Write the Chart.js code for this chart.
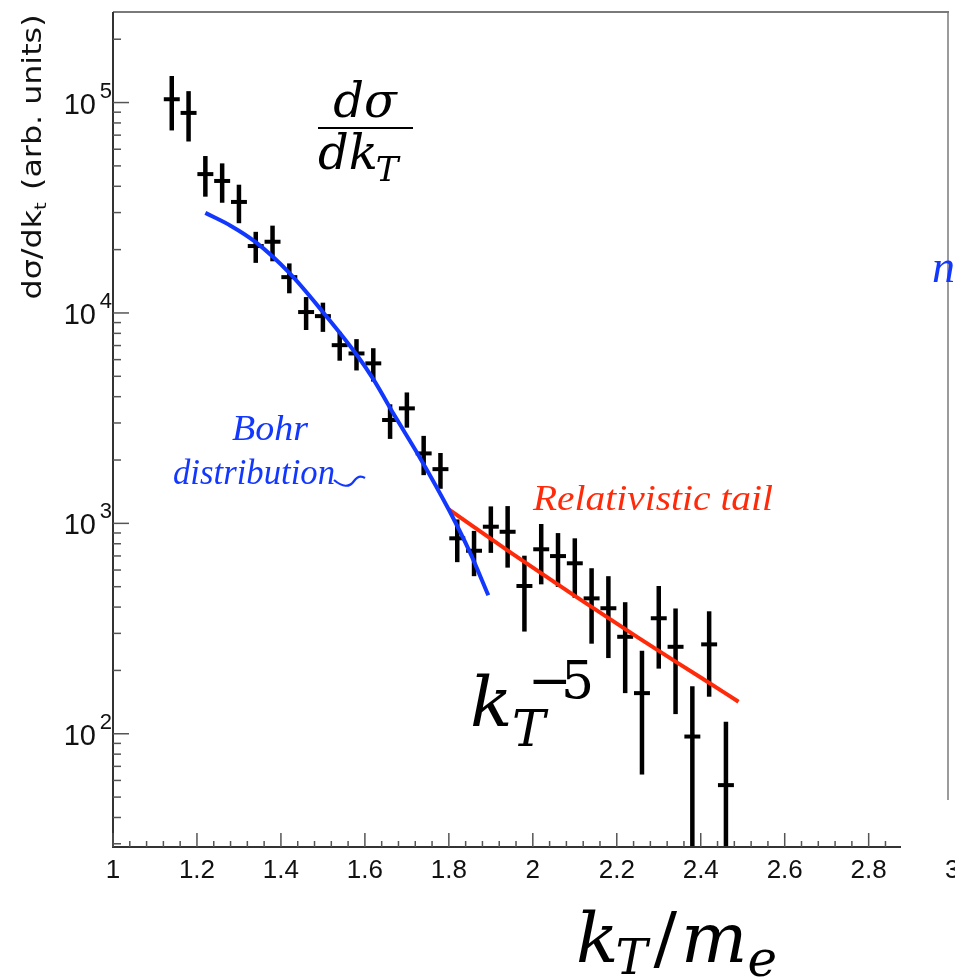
<!DOCTYPE html>
<html>
<head>
<meta charset="utf-8">
<script src="https://cdn.jsdelivr.net/npm/chart.js@4.4.1/dist/chart.umd.min.js"></script>
<style>
  html, body { margin: 0; padding: 0; background: #fff; }
  canvas { display: block; }
</style>
</head>
<body>
<canvas id="chart" width="955" height="978"></canvas>
<script>
// measured spectrum (bin centres, value, symmetric error)
const kt = [1.14, 1.18, 1.22, 1.26, 1.30, 1.34, 1.38, 1.42, 1.46, 1.50, 1.54, 1.58,
            1.62, 1.66, 1.70, 1.74, 1.78, 1.82, 1.86, 1.90, 1.94, 1.98, 2.02, 2.06,
            2.10, 2.14, 2.18, 2.22, 2.26, 2.30, 2.34, 2.38, 2.42, 2.46];
const sigma = [103700, 89300, 45700, 42400, 33700, 20800, 21800, 14800, 10100, 9660, 7030, 6420,
               5760, 3100, 3520, 2150, 1810, 849, 741, 964, 912, 504, 753, 699,
               646, 440, 395, 289, 156, 354, 259, 97, 266, 57];
const sigmaErr = [30000, 24000, 10000, 9000, 7000, 3500, 4200, 2400, 1800, 1530, 1100, 1090,
                  1040, 580, 670, 455, 350, 195, 180, 240, 296, 198, 240, 200,
                  203, 172, 166, 133, 92, 150, 135, 71, 116, 57];
const binHalf = 0.019;

// Bohr distribution curve
const bohrX = [1.22, 1.28, 1.34, 1.42, 1.50, 1.58, 1.62, 1.67, 1.73, 1.80, 1.85, 1.894];
const bohrY = [29900, 26000, 21700, 15500, 10100, 6350, 4850, 3270, 2070, 1160, 730, 455];

// relativistic tail ~ k^-5
const tailX = [1.80, 1.95, 2.10, 2.25, 2.40, 2.49];
const tailY = [1165, 720, 452, 287, 185, 142];

// axis ticks
const xTickLabels = ['1', '1.2', '1.4', '1.6', '1.8', '2', '2.2', '2.4', '2.6', '2.8'];
const yTickPowers = [2, 3, 4, 5];

const xMin = 1, xMax = 2.877;
const yMin = 28.96, yMax = 269400;

const BLUE = '#1238ff';
const RED = '#ff2a0a';

function pts(xs, ys) {
  return xs.map((x, i) => ({ x: x, y: ys[i] }));
}

// draws a run of text pieces [text, font, dy, gap] starting at x
function drawRuns(ctx, x, y, runs) {
  let cx = x;
  runs.forEach(r => {
    ctx.font = r[1];
    ctx.fillText(r[0], cx, y + r[2]);
    cx += ctx.measureText(r[0]).width + (r[3] || 0);
  });
  return cx;
}
function runsWidth(ctx, runs) {
  let w = 0;
  runs.forEach(r => { ctx.font = r[1]; w += ctx.measureText(r[0]).width + (r[3] || 0); });
  return w;
}
// text squeezed/stretched horizontally to a given width, left edge at x
function fitText(ctx, text, font, x, y, width) {
  ctx.font = font;
  const w = ctx.measureText(text).width;
  ctx.save();
  ctx.translate(x, y);
  ctx.scale(width / w, 1);
  ctx.textAlign = 'left';
  ctx.fillText(text, 0, 0);
  ctx.restore();
}

const errorBars = {
  id: 'errorBars',
  beforeDatasetsDraw(chart) {
    const ctx = chart.ctx, xs = chart.scales.x, ys = chart.scales.y, a = chart.chartArea;
    ctx.save();
    ctx.beginPath();
    ctx.rect(a.left, a.top, a.right - a.left, a.bottom - a.top);
    ctx.clip();
    ctx.strokeStyle = '#000';
    kt.forEach((k, i) => {
      const px = xs.getPixelForValue(k);
      const py = ys.getPixelForValue(sigma[i]);
      const lo = sigma[i] - sigmaErr[i];
      const pyLo = lo > 1 ? ys.getPixelForValue(lo) : a.bottom + 20;
      const pyHi = ys.getPixelForValue(sigma[i] + sigmaErr[i]);
      ctx.lineWidth = 4.5;
      ctx.beginPath(); ctx.moveTo(px, pyHi); ctx.lineTo(px, pyLo); ctx.stroke();
      ctx.lineWidth = 4;
      ctx.beginPath();
      ctx.moveTo(xs.getPixelForValue(k - binHalf), py);
      ctx.lineTo(xs.getPixelForValue(k + binHalf), py);
      ctx.stroke();
    });
    ctx.restore();
  }
};

const frame = {
  id: 'frame',
  afterDraw(chart) {
    const ctx = chart.ctx, xs = chart.scales.x, ys = chart.scales.y, a = chart.chartArea;
    ctx.save();

    // frame lines (top one runs on into the neighbouring panel)
    ctx.strokeStyle = '#7a7a7a'; ctx.lineWidth = 2;
    ctx.beginPath(); ctx.moveTo(a.left, a.top); ctx.lineTo(949, a.top); ctx.stroke();
    ctx.lineWidth = 1.5;
    ctx.beginPath(); ctx.moveTo(948, a.top); ctx.lineTo(948, 800); ctx.stroke();
    ctx.strokeStyle = '#333'; ctx.lineWidth = 2;
    ctx.beginPath(); ctx.moveTo(a.left, a.top); ctx.lineTo(a.left, a.bottom); ctx.lineTo(a.right, a.bottom); ctx.stroke();

    // x ticks, pointing inward
    ctx.strokeStyle = '#555'; ctx.lineWidth = 1.5;
    for (let i = 0; 1 + i * 0.04 <= xMax + 1e-9; i++) {
      const v = 1 + i * 0.04;
      const px = xs.getPixelForValue(v);
      const len = (i % 5 === 0) ? 14 : 6;
      ctx.beginPath(); ctx.moveTo(px, a.bottom); ctx.lineTo(px, a.bottom - len); ctx.stroke();
    }
    // y ticks, log decades with minors
    for (let p = 1; p <= 5; p++) {
      for (let m = 1; m <= 9; m++) {
        const v = m * Math.pow(10, p);
        if (v < yMin || v > yMax) continue;
        const py = ys.getPixelForValue(v);
        const len = m === 1 ? 16 : 8;
        ctx.beginPath(); ctx.moveTo(a.left, py); ctx.lineTo(a.left + len, py); ctx.stroke();
      }
    }

    // tick labels
    ctx.fillStyle = '#111';
    ctx.textBaseline = 'alphabetic';
    ctx.font = '26px "Liberation Sans"';
    ctx.textAlign = 'center';
    xTickLabels.forEach(t => {
      ctx.fillText(t, xs.getPixelForValue(parseFloat(t)), 878);
    });
    ctx.textAlign = 'right';
    yTickPowers.forEach(p => {
      const py = ys.getPixelForValue(Math.pow(10, p));
      ctx.font = '29px "Liberation Sans"';
      ctx.fillText('10', 96, py + 11);
      ctx.font = '22px "Liberation Sans"';
      ctx.fillText(String(p), 112, py - 5);
    });
    // cut-off label of the next panel
    ctx.textAlign = 'left';
    ctx.font = '26px "Liberation Sans"';
    ctx.fillText('3', 945, 878);

    // y axis title, rotated, spread over its original length
    ctx.save();
    ctx.translate(41, 157);
    ctx.rotate(-Math.PI / 2);
    const yt = [['d\u03c3/dk', '26px "DejaVu Sans"', 0], ['t', '16px "DejaVu Sans"', 5, 2], [' (arb. units)', '26px "DejaVu Sans"', 0]];
    const ytw = runsWidth(ctx, yt);
    ctx.scale(285 / ytw, 1);
    drawRuns(ctx, -ytw / 2, 0, yt);
    ctx.restore();

    // x axis title  k_T / m_e
    ctx.fillStyle = '#000';
    ctx.textAlign = 'left';
    const mi = '70px "DejaVu Serif"';
    drawRuns(ctx, 576, 962, [
      ['k', 'italic ' + mi, 0, -3],
      ['T', 'italic 48px "DejaVu Serif"', 12, 6],
      ['/', mi, 0, 4],
      ['m', 'italic ' + mi, 0, 0],
      ['e', 'italic 50px "DejaVu Serif"', 14]
    ]);

    // d sigma / d k_T fraction
    const ff = 'italic 48px "DejaVu Serif"';
    ctx.font = ff;
    ctx.textAlign = 'center';
    ctx.fillText('d\u03c3', 365, 117);
    ctx.fillRect(318, 127, 95, 2);
    ctx.textAlign = 'left';
    const den = [['dk', ff, 0, -2], ['T', 'italic 34px "DejaVu Serif"', 12]];
    drawRuns(ctx, 318, 169, den);

    // k_T^-5
    ctx.font = 'italic 70px "DejaVu Serif"';
    ctx.fillText('k', 470, 726);
    ctx.font = 'italic 50px "DejaVu Serif"';
    ctx.fillText('T', 512, 746);
    ctx.font = '52px "DejaVu Serif"';
    ctx.fillText('\u2212', 528, 698);
    ctx.fillText('5', 561, 698);

    // curve labels
    ctx.fillStyle = BLUE;
    fitText(ctx, 'Bohr', 'italic 35px "Liberation Serif"', 232, 440, 76);
    fitText(ctx, 'distribution', 'italic 35px "Liberation Serif"', 173, 484, 162);
    ctx.strokeStyle = BLUE; ctx.lineWidth = 2.2;
    ctx.beginPath();
    ctx.moveTo(334, 480); ctx.quadraticCurveTo(347, 491, 354, 481); ctx.quadraticCurveTo(359, 474, 365, 478);
    ctx.stroke();
    ctx.font = 'italic 46px "Liberation Serif"';
    ctx.fillText('n', 932, 282);

    ctx.fillStyle = RED;
    fitText(ctx, 'Relativistic tail', 'italic 36px "Liberation Serif"', 533, 510, 240);

    ctx.restore();
  }
};

new Chart(document.getElementById('chart'), {
  type: 'scatter',
  data: {
    datasets: [
      {
        label: 'data',
        data: pts(kt, sigma),
        pointRadius: 0,
        showLine: false
      },
      {
        label: 'Bohr distribution',
        data: pts(bohrX, bohrY),
        showLine: true,
        borderColor: BLUE,
        borderWidth: 4,
        pointRadius: 0,
        cubicInterpolationMode: 'monotone'
      },
      {
        label: 'Relativistic tail',
        data: pts(tailX, tailY),
        showLine: true,
        borderColor: RED,
        borderWidth: 4,
        pointRadius: 0,
        cubicInterpolationMode: 'monotone'
      }
    ]
  },
  options: {
    responsive: false,
    animation: false,
    devicePixelRatio: 1,
    layout: { padding: { left: 113, right: 54, top: 12, bottom: 131 } },
    plugins: { legend: { display: false }, tooltip: { enabled: false } },
    scales: {
      x: { type: 'linear', min: xMin, max: xMax, display: false },
      y: { type: 'logarithmic', min: yMin, max: yMax, display: false }
    }
  },
  plugins: [errorBars, frame]
});
</script>
</body>
</html>
